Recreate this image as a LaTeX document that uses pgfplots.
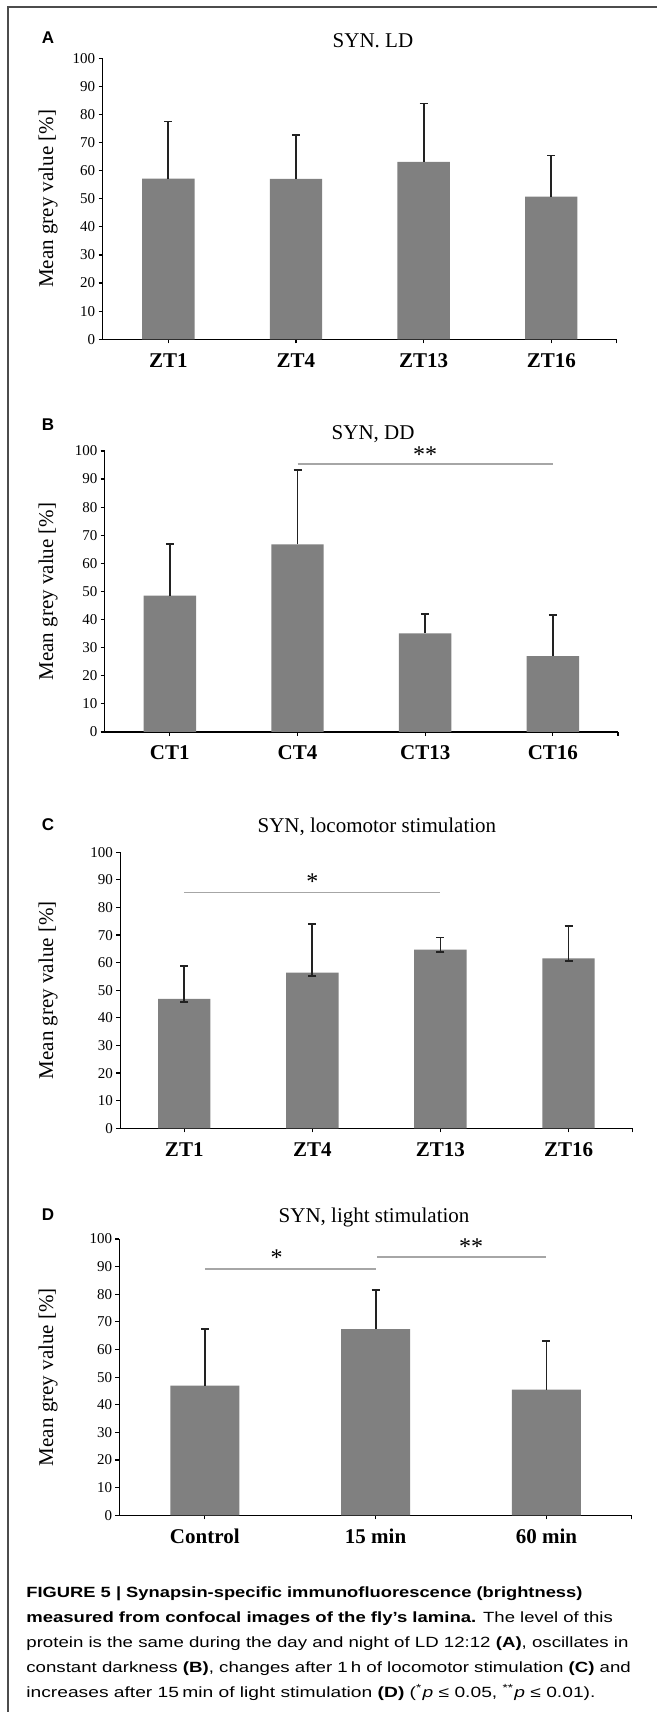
\documentclass[border=0pt]{standalone}
\usepackage{pgfplots}
\pgfplotsset{compat=1.18}
\usepackage{graphicx}
\usepackage{fontspec}
\setmainfont{Liberation Serif}
\newfontfamily\capfont{Liberation Sans}
\definecolor{bargray}{HTML}{808080}
\definecolor{siggray}{HTML}{A6A6A6}
\definecolor{errc}{HTML}{222222}
\tikzset{starlbl/.style={anchor=base, font=\fontsize{12}{13}\selectfont}}
\pgfplotsset{
  panel/.style={
    scale only axis,
    axis lines=left,
    axis line style={-, line width=0.6pt, black},
    ymin=0, ymax=100,
    ytick={0,10,...,100},
    tick align=outside,
    major tick length=2pt,
    tick style={black, line width=0.6pt},
    /pgf/number format/assume math mode=true,
    yticklabel style={font=\fontsize{7.5}{8}\selectfont, inner sep=1.5pt},
    xticklabel style={font=\bfseries\fontsize{10.5}{12}\selectfont, yshift=-1.5pt},
    ylabel={Mean grey value [\%]},
    ylabel style={font=\fontsize{10.5}{12}\selectfont},
    title style={font=\fontsize{10.5}{12}\selectfont, anchor=center},
    clip=false,
  },
  bars/.style={ybar, fill=bargray, draw=none,
    error bars/y explicit,
    error bars/error bar style={line width=0.9pt, draw=errc},
    error bars/error mark options={rotate=90, line width=0.9pt, draw=errc, mark size=2pt}},
  sig/.style={sharp plot, no marks, draw=siggray, line width=0.8pt},
}
\begin{document}
\begin{tikzpicture}
\path[use as bounding box] (0,0) rectangle (328.5pt,856pt);
\draw[line width=0.7pt, black!70] (4pt,0) -- (4pt,852.4pt) -- (328.5pt,852.4pt);

% Panel A
\node[font=\capfont\bfseries\fontsize{8.5}{10}\selectfont] at (24pt,837pt) {A};
\begin{axis}[panel, at={(51.3pt,686.35pt)}, anchor=south west,
  width=257pt, height=140.5pt,
  xmin=-0.515, xmax=3.512, xtick={0,1,2,3},
  xticklabels={ZT1,ZT4,ZT13,ZT16},
  extra x ticks={3.512}, extra x tick labels={},
  ylabel style={at={(axis description cs:0,0.5)}, anchor=center, yshift=27.3pt},
  title={SYN. LD}, title style={at={(axis description cs:0.526,1)}, yshift=3pt}]
\addplot[bars, bar width=26.2pt, error bars/y dir=plus] coordinates {
  (0,57.2) +- (0,20.3)
  (1,57.1) +- (0,15.7)
  (2,63.1) +- (0,20.8)
  (3,50.8) +- (0,14.6)
};
\end{axis}

% Panel B
\node[font=\capfont\bfseries\fontsize{8.5}{10}\selectfont] at (24pt,643.5pt) {B};
\begin{axis}[panel, at={(52.35pt,490pt)}, anchor=south west,
  width=256.65pt, height=140.5pt,
  xmin=-0.51, xmax=3.51, xtick={0,1,2,3},
  xticklabels={CT1,CT4,CT13,CT16},
  extra x ticks={3.51}, extra x tick labels={},
  ylabel style={at={(axis description cs:0,0.5)}, anchor=center, yshift=28.3pt},
  title={SYN, DD}, title style={at={(axis description cs:0.523,1)}, yshift=2.2pt}]
\addplot[bars, bar width=26.2pt, error bars/y dir=plus] coordinates {
  (0,48.5) +- (0,18.4)
  (1,66.8) +- (0,26.4)
  (2,35.1) +- (0,6.9)
  (3,27.0) +- (0,14.6)
};
\addplot[sig] coordinates {(1,95.4) (3,95.4)};
\node[starlbl] at (axis cs:2,96.0) {**};
\end{axis}

% Panel C
\node[font=\capfont\bfseries\fontsize{8.5}{10}\selectfont] at (24pt,443.5pt) {C};
\begin{axis}[panel, at={(60.1pt,291.85pt)}, anchor=south west,
  width=256.2pt, height=138pt,
  xmin=-0.5, xmax=3.5, xtick={0,1,2,3},
  xticklabels={ZT1,ZT4,ZT13,ZT16},
  extra x ticks={3.5}, extra x tick labels={},
  ylabel style={at={(axis description cs:0,0.5)}, anchor=center, yshift=36.1pt},
  title={SYN, locomotor stimulation}, title style={at={(axis description cs:0.501,1)}, yshift=6.6pt}]
\addplot[bars, bar width=26.2pt, error bars/y dir=both] coordinates {
  (0,46.9) += (0,11.8) -= (0,1.1)
  (1,56.4) += (0,17.6) -= (0,1.2)
  (2,64.7) += (0,4.4) -= (0,0.8)
  (3,61.6) += (0,11.8) -= (0,1.1)
};
\addplot[sig] coordinates {(0,85.4) (2,85.4)};
\node[starlbl] at (axis cs:1,86.5) {*};
\end{axis}

% Panel D
\node[font=\capfont\bfseries\fontsize{8.5}{10}\selectfont] at (24pt,248.5pt) {D};
\begin{axis}[panel, at={(59.7pt,98.35pt)}, anchor=south west,
  width=256.2pt, height=138.15pt,
  xmin=-0.5, xmax=2.5, xtick={0,1,2},
  xticklabels={Control,15 min,60 min},
  extra x ticks={2.5}, extra x tick labels={},
  ylabel style={at={(axis description cs:0,0.5)}, anchor=center, yshift=35.7pt},
  title={SYN, light stimulation}, title style={at={(axis description cs:0.497,1)}, yshift=5pt}]
\addplot[bars, bar width=34.5pt, error bars/y dir=plus] coordinates {
  (0,46.9) +- (0,20.5)
  (1,67.4) +- (0,14.0)
  (2,45.5) +- (0,17.7)
};
\addplot[sig] coordinates {(0,89.1) (1.0,89.1)};
\addplot[sig] coordinates {(1.01,93.4) (2,93.4)};
\node[starlbl] at (axis cs:0.42,90.5) {*};
\node[starlbl] at (axis cs:1.56,94.5) {**};
\end{axis}

% Caption
\begin{scope}[every node/.style={anchor=base west, inner sep=0pt, font=\capfont\fontsize{7.4}{9}\selectfont}]
\node at (13pt,57.35pt) {\resizebox{278pt}{\height}{\bfseries FIGURE 5 | Synapsin-specific immunofluorescence (brightness)}};
\node at (13pt,44.85pt) {\resizebox{293.2pt}{\height}{\textbf{measured from confocal images of the fly’s lamina.} The level of this}};
\node at (13pt,32.35pt) {\resizebox{301pt}{\height}{protein is the same during the day and night of LD 12:12 \textbf{(A)}, oscillates in}};
\node at (13pt,19.85pt) {\resizebox{302.2pt}{\height}{constant darkness \textbf{(B)}, changes after 1\,h of locomotor stimulation \textbf{(C)} and}};
\node at (13pt,7.35pt) {\resizebox{284.5pt}{\height}{increases after 15\,min of light stimulation \textbf{(D)} (\textsuperscript{*}\textit{p} ≤ 0.05, \textsuperscript{**}\textit{p} ≤ 0.01).}};
\end{scope}
\end{tikzpicture}
\end{document}
